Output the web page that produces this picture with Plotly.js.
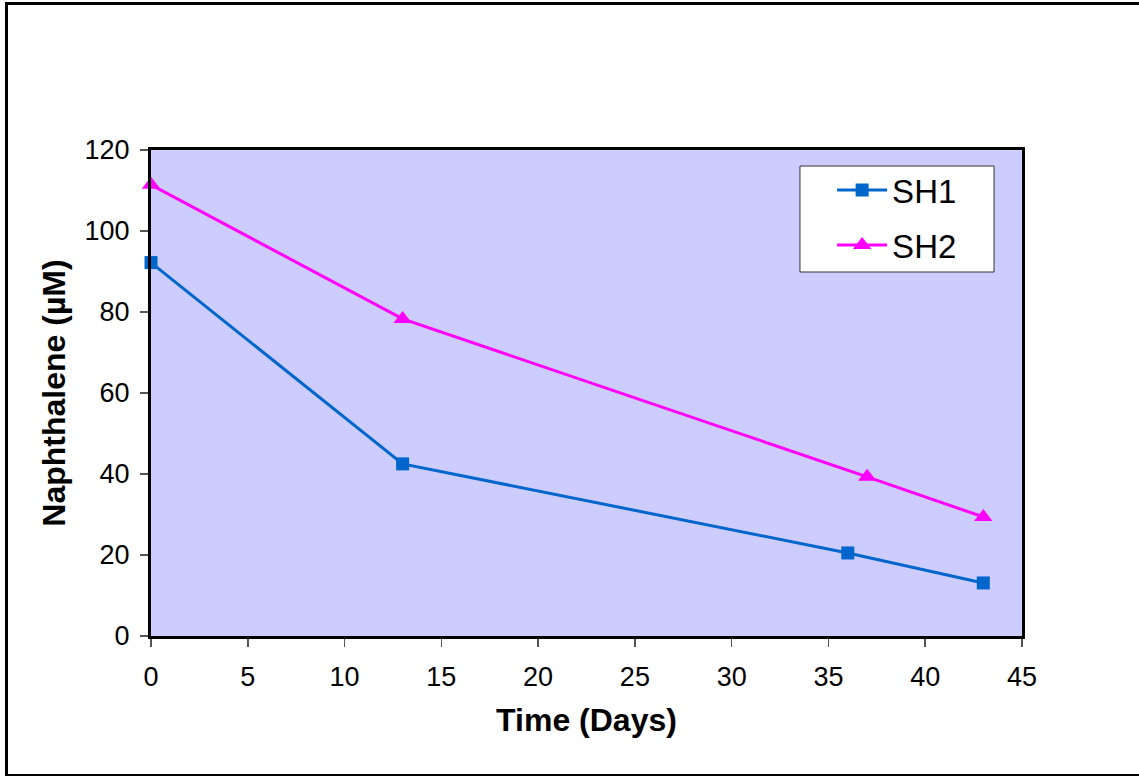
<!DOCTYPE html>
<html>
<head>
<meta charset="utf-8">
<script src="https://cdn.plot.ly/plotly-3.0.1.min.js"></script>
<style>
html,body{margin:0;padding:0;background:#fff;}
#wrap{position:relative;width:1139px;height:776px;overflow:hidden;}
#chart{position:absolute;left:0;top:0;width:1139px;height:776px;}
#frame{position:absolute;left:5px;top:2px;width:1150px;height:769px;border:3px solid #000;pointer-events:none;}
</style>
</head>
<body>
<div id="wrap"><div id="chart"></div><div id="frame"></div></div>
<script>
const sh1Days = [0, 13, 36, 43];
const sh1Values = [92.2, 42.5, 20.5, 13.1];
const sh2Days = [0, 13, 37, 43];
const sh2Values = [111.4, 78.3, 39.3, 29.4];
const xTicks = [0, 5, 10, 15, 20, 25, 30, 35, 40, 45];
const yTicks = [0, 20, 40, 60, 80, 100, 120];

const traces = [
  {x: sh1Days, y: sh1Values, name: 'SH1', legendgroup: 'a', mode: 'lines+markers', type: 'scatter',
   line: {color: '#0066CC', width: 3}, marker: {symbol: 'square', size: 13, color: '#0066CC'}, cliponaxis: false},
  {x: sh2Days, y: sh2Values, name: 'SH2', legendgroup: 'b', mode: 'lines+markers', type: 'scatter',
   line: {color: '#FF00FF', width: 3}, marker: {symbol: 'triangle-up', size: 16, color: '#FF00FF'}, cliponaxis: false}
];

const layout = {
  width: 1139, height: 776,
  margin: {l: 151, r: 117, t: 150, b: 140, pad: 0},
  paper_bgcolor: '#FFFFFF',
  plot_bgcolor: '#CCCCFF',
  font: {family: 'Liberation Sans, Arial, sans-serif', size: 27, color: '#000'},
  showlegend: true,
  legend: {x: 0.782, y: 0.975, xanchor: 'left', yanchor: 'top', bgcolor: 'rgba(0,0,0,0)',
           borderwidth: 0, font: {size: 33}, tracegroupgap: 9, itemwidth: 50},
  shapes: [
    {type: 'rect', xref: 'paper', yref: 'paper', x0: 0.7451, x1: 0.9679, y0: 0.749, y1: 0.967,
     fillcolor: '#FFFFFF', line: {color: '#333333', width: 1}, layer: 'above'}
  ],
  xaxis: {range: [0, 45], tickvals: xTicks, ticks: 'outside', ticklen: 8, tickwidth: 1.5, tickcolor: '#555',
          showgrid: false, zeroline: false, showline: true, linecolor: '#000', linewidth: 3, mirror: true,
          ticklabelstandoff: 7,
          tickfont: {size: 27}, title: {text: '<b>Time (Days)</b>', font: {size: 32}, standoff: 18}},
  yaxis: {range: [0, 120], tickvals: yTicks, ticks: 'outside', ticklen: 8, tickwidth: 1.5, tickcolor: '#555',
          showgrid: false, zeroline: false, showline: true, linecolor: '#000', linewidth: 3, mirror: true,
          ticklabelstandoff: 5,
          tickfont: {size: 27}, title: {text: '<b>Naphthalene (µM)</b>', font: {size: 32}, standoff: 10}}
};

Plotly.newPlot('chart', traces, layout, {displayModeBar: false, staticPlot: true});
</script>
</body>
</html>
